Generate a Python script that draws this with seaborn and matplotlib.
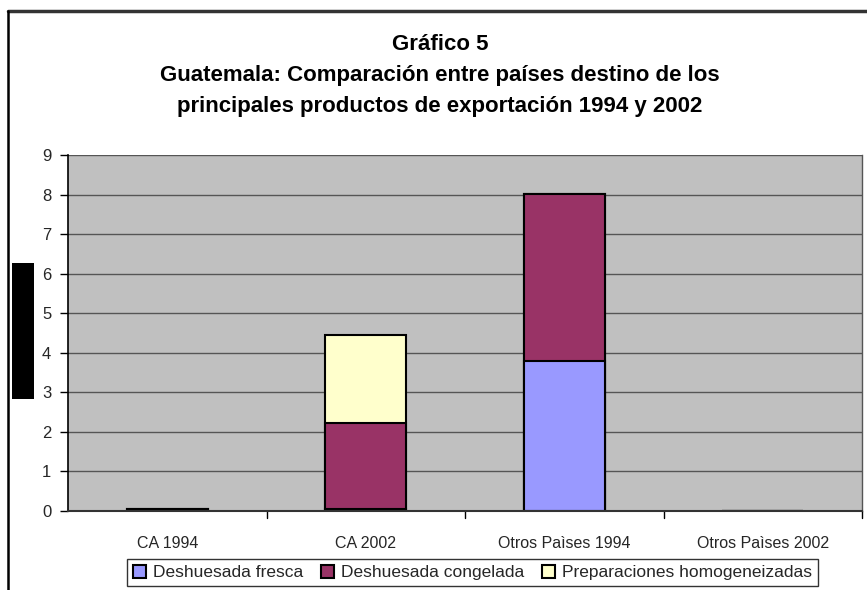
import matplotlib
matplotlib.use("Agg")
import matplotlib.pyplot as plt
from matplotlib.patches import Rectangle, Patch
from matplotlib.lines import Line2D
import seaborn as sns
import pandas as pd
import numpy as np

categories = ["CA 1994", "CA 2002", "Otros Paìses 1994", "Otros Paìses 2002"]
fresca = [0.01, 0.05, 3.78, 0.0]
congelada = [0.03, 2.17, 4.24, 0.0]
homogeneizadas = [0.0, 2.22, 0.0, 0.0]
series_names = ["Deshuesada fresca", "Deshuesada congelada", "Preparaciones homogeneizadas"]
series_colors = ["#9999FF", "#993366", "#FFFFCC"]
yticks = list(range(0, 10))
title_lines = ["Gráfico 5",
               "Guatemala: Comparación entre países destino de los",
               "principales productos de exportación 1994 y 2002"]

sns.set_theme(style="white")
plt.rcParams["font.family"] = ["Liberation Sans", "DejaVu Sans"]

fig = plt.figure(figsize=(8.67, 5.9), dpi=100)
ax = fig.add_axes([68/867, 1-511/590, (862-68)/867, (511-155)/590])
ax.set_facecolor("#C0C0C0")

f = np.array(fresca)
c = np.array(congelada)
h = np.array(homogeneizadas)
cum = [f + c + h, f + c, f]
order = [2, 1, 0]
for vals, idx in zip(cum, order):
    df = pd.DataFrame({"cat": categories, "val": vals})
    sns.barplot(data=df, x="cat", y="val", color=series_colors[idx],
                saturation=1, width=0.41, edgecolor="black", linewidth=1.5,
                ax=ax, zorder=3, order=categories)

ax.set_xlim(-0.5, 3.5)
ax.set_ylim(0, 9)
ax.set_yticks(yticks)
ax.set_yticklabels([str(t) for t in yticks], fontsize=12)
ax.yaxis.grid(True, color="#555555", linewidth=1.0, zorder=0)
ax.set_axisbelow(True)
ax.set_xlabel("")
ax.set_ylabel("")
ax.set_xticks([0, 1, 2, 3])
ax.set_xticklabels(categories, fontsize=11.5)
ax.tick_params(axis="x", length=0, pad=18)
# category boundary ticks
for b in [0.5, 1.5, 2.5, 3.5]:
    ax.plot([b, b], [0, -0.17], color="black", lw=1, clip_on=False, zorder=5)
ax.tick_params(axis="y", length=6, width=1, color="black", direction="out", left=True, pad=6)

ax.spines["top"].set_visible(False)
ax.spines["left"].set_color("black")
ax.spines["left"].set_linewidth(1.2)
ax.spines["bottom"].set_color("#333333")
ax.spines["bottom"].set_linewidth(1.5)
ax.spines["right"].set_color("#555555")
ax.spines["right"].set_linewidth(1.0)
ax.spines["left"].set_zorder(6)
ax.spines["bottom"].set_zorder(6)

# title
ys = [44, 75, 106]
for t, y in zip(title_lines, ys):
    fig.text(440/867, 1-y/590, t, ha="center", va="center", fontsize=16,
             fontweight="bold", color="black")

# legend
handles = [Patch(facecolor=col, edgecolor="black", linewidth=1.5) for col in series_colors]
leg = fig.legend(handles, series_names, loc="center", bbox_to_anchor=(472.5/867, 1-572.5/590),
                 ncol=3, fontsize=12.5, frameon=True, fancybox=False, shadow=False,
                 handlelength=0.75, handleheight=0.75, handletextpad=0.4, columnspacing=1.0,
                 borderpad=0.35, borderaxespad=0)
leg.get_frame().set_edgecolor("black")
leg.get_frame().set_linewidth(1.0)

# chart area border (partially cropped)
fig.add_artist(Line2D([8/867, 1.0], [1-11/590, 1-11/590], color="#333333", lw=2.5,
                      transform=fig.transFigure))
fig.add_artist(Line2D([8/867, 8/867], [0, 1-11/590], color="black", lw=1.8,
                      transform=fig.transFigure))
# redacted axis label block
fig.add_artist(Rectangle((12/867, 1-399/590), 22/867, 136/590, transform=fig.transFigure,
                         facecolor="black", edgecolor="none"))

fig.savefig("out.png", dpi=100)
